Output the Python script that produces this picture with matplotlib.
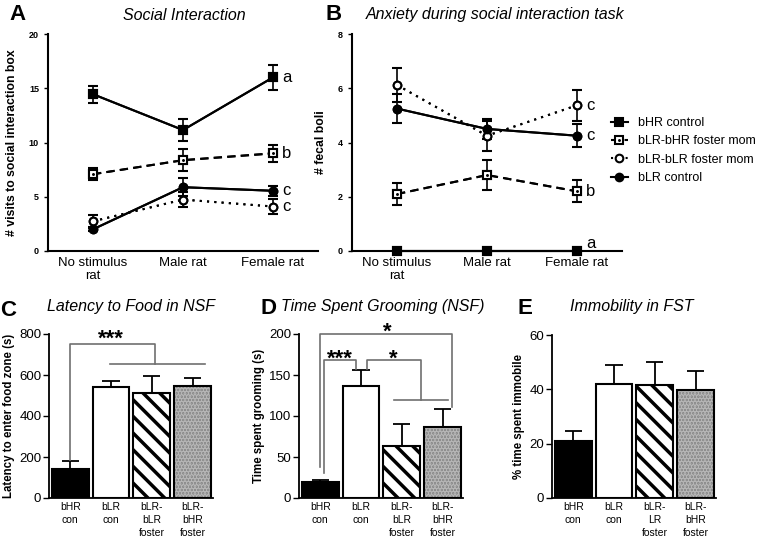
import numpy as np
import matplotlib.pyplot as plt

plt.rcParams['font.family'] = ['Liberation Sans', 'DejaVu Sans']
plt.rcParams['hatch.linewidth'] = 2.5

W, H = 762, 539

# Panel A/B: social interaction
conditions = ['No stimulus\nrat', 'Male rat', 'Female rat']
groups = ['bHR control', 'bLR-bHR foster mom', 'bLR-bLR foster mom', 'bLR control']

visits_bhr = [14.45, 11.15, 16.0]
visits_bhr_err = [0.8, 1.0, 1.15]
visits_hrfoster = [7.08, 8.37, 9.0]
visits_hrfoster_err = [0.55, 1.0, 0.8]
visits_lrfoster = [2.74, 4.74, 4.1]
visits_lrfoster_err = [0.55, 0.7, 0.68]
visits_blr = [2.0, 5.88, 5.55]
visits_blr_err = [0.15, 0.85, 0.45]
visits_letters = ['a', 'b', 'c', 'c']

boli_bhr = [0.0, 0.0, 0.0]
boli_bhr_err = [0.0, 0.0, 0.0]
boli_hrfoster = [2.1, 2.8, 2.2]
boli_hrfoster_err = [0.4, 0.56, 0.4]
boli_lrfoster = [6.12, 4.25, 5.37]
boli_lrfoster_err = [0.62, 0.55, 0.56]
boli_blr = [5.25, 4.5, 4.25]
boli_blr_err = [0.53, 0.38, 0.43]
boli_letters = ['a', 'b', 'c', 'c']

# Panels C/D/E: bars
bar_labels = ['bHR\ncon', 'bLR\ncon', 'bLR-\nbLR\nfoster', 'bLR-\nbHR\nfoster']
fst_labels = ['bHR\ncon', 'bLR\ncon', 'bLR-\nLR\nfoster', 'bLR-\nbHR\nfoster']
latency = [141, 541, 514, 546]
latency_err = [41, 31, 83, 38]
grooming = [19, 136, 64, 86]
grooming_err = [2.5, 19.5, 26, 22]
immobility = [21.1, 42.1, 41.7, 39.9]
immobility_err = [3.7, 6.7, 8.5, 6.7]


def px(x0, y0, w, h):
    return [x0 / W, 1 - (y0 + h) / H, w / W, h / H]


fig = plt.figure(figsize=(W / 100, H / 100), dpi=100)

line_styles = [
    dict(ls='-', marker='s', mfc='black'),
    dict(ls=(0, (4, 2.5)), marker='s', mfc='white'),
    dict(ls=(0, (1, 2.5)), marker='o', mfc='white'),
    dict(ls='-', marker='o', mfc='black'),
]


def line_panel(ax, series, errs, letters, ymax, step):
    x = np.arange(len(conditions))
    handles = []
    for i, (m, e) in enumerate(zip(series, errs)):
        st = line_styles[i]
        ax.errorbar(x, m, yerr=e, color='black', lw=1.5, ls=st['ls'],
                    marker=st['marker'], ms=5.5, mfc=st['mfc'], mec='black',
                    mew=1.5, capsize=3.5, elinewidth=1.2, capthick=1.2,
                    clip_on=False, zorder=3)
        h, = ax.plot(x, m, color='black', lw=1.5, ls=st['ls'], marker=st['marker'],
                     ms=5.5, mfc=st['mfc'], mec='black', mew=1.5, clip_on=False, zorder=4)
        if i == 1:
            d, = ax.plot(x, m, ls='none', marker='.', ms=2.2, color='black',
                         clip_on=False, zorder=5)
            handles.append((h, d))
        else:
            handles.append(h)
        va = 'bottom' if m[-1] == 0 else 'center'
        ax.text(x[-1] + 0.1, m[-1], letters[i], fontsize=12, ha='left', va=va)
    ax.set_xlim(-0.5, 2.5)
    ax.set_ylim(0, ymax)
    ax.set_yticks(np.arange(0, ymax + 0.1, step))
    ax.set_xticks(x)
    ax.set_xticklabels(conditions, fontsize=9.5)
    ax.tick_params(axis='x', length=0, pad=4)
    ax.tick_params(axis='y', length=3, width=1, labelsize=6.5)
    for t in ax.get_yticklabels():
        t.set_fontweight('bold')
    for s in ['top', 'right']:
        ax.spines[s].set_visible(False)
    for s in ['left', 'bottom']:
        ax.spines[s].set_linewidth(1.5)
    return handles


axA = fig.add_axes(px(48, 34, 270, 217))
handles = line_panel(axA, [visits_bhr, visits_hrfoster, visits_lrfoster, visits_blr],
                     [visits_bhr_err, visits_hrfoster_err, visits_lrfoster_err, visits_blr_err],
                     visits_letters, 20, 5)
axA.set_ylabel('# visits to social interaction box', fontsize=8.8, fontweight='bold', labelpad=8)

axB = fig.add_axes(px(352, 34, 270, 217))
line_panel(axB, [boli_bhr, boli_hrfoster, boli_lrfoster, boli_blr],
           [boli_bhr_err, boli_hrfoster_err, boli_lrfoster_err, boli_blr_err],
           boli_letters, 8, 2)
axB.set_ylabel('# fecal boli', fontsize=8.8, fontweight='bold', labelpad=8)

fig.legend(handles, groups, loc='upper left', bbox_to_anchor=(600 / W, 1 - 106 / H),
           frameon=False, fontsize=9, handlelength=1.3, handletextpad=0.8,
           labelspacing=0.5, numpoints=1)


def bar_panel(ax, vals, errs, labels, ymax, step):
    x = np.arange(len(vals))
    ax.bar(x[0], vals[0], 0.9, color='black', edgecolor='black', lw=1.5, zorder=2)
    ax.bar(x[1], vals[1], 0.9, color='white', edgecolor='black', lw=1.5, zorder=2)
    ax.bar(x[2], vals[2], 0.9, color='white', edgecolor='black', hatch='\\\\', lw=0, zorder=2)
    ax.bar(x[3], vals[3], 0.9, color='#8a8a8a', edgecolor='#b5b5b5', hatch='.....', lw=0, zorder=2)
    ax.bar(x[2:], vals[2:], 0.9, color='none', edgecolor='black', lw=1.5, zorder=3)
    v = np.array(vals)
    e = np.array(errs)
    ax.vlines(x, v, v + e, color='black', lw=1.3, zorder=1)
    ax.hlines(v + e, x - 0.21, x + 0.21, color='black', lw=1.3, zorder=1)
    ax.set_xlim(-0.52, 3.5)
    ax.set_ylim(0, ymax)
    ax.set_yticks(np.arange(0, ymax + 0.1, step))
    ax.set_xticks(x)
    ax.set_xticklabels(labels, fontsize=7.5, linespacing=1.35)
    ax.tick_params(axis='x', length=0, pad=3)
    ax.tick_params(axis='y', length=4, width=1, labelsize=9.5, pad=1.5)
    for s in ['top', 'right']:
        ax.spines[s].set_visible(False)
    for s in ['left', 'bottom']:
        ax.spines[s].set_linewidth(1.3)


sig = dict(color='#707070', lw=1.2, clip_on=False, zorder=4)

axC = fig.add_axes(px(49, 334, 164, 164))
bar_panel(axC, latency, latency_err, bar_labels, 800, 200)
axC.set_ylabel('Latency to enter food zone (s)', fontsize=8.3, fontweight='bold', labelpad=3)
axC.plot([0, 0, 2.08, 2.08], [latency[0] + latency_err[0] + 5, 750, 750, 654], **sig)
axC.plot([0.98, 3.3], [654, 654], **sig)
axC.text(1.0, 722, '***', fontsize=16, fontweight='bold', ha='center', va='bottom')

axD = fig.add_axes(px(299, 334, 164, 164))
bar_panel(axD, grooming, grooming_err, bar_labels, 200, 50)
axD.set_ylabel('Time spent grooming (s)', fontsize=8.3, fontweight='bold', labelpad=3)
axD.plot([0, 0, 3.24, 3.24], [38, 200, 200, 111], **sig)
axD.plot([0.1, 0.1, 0.88, 0.88], [30, 168, 168, 157], **sig)
axD.plot([1.14, 1.14, 2.48, 2.48], [157, 168, 168, 119], **sig)
axD.plot([1.8, 3.14], [119, 119], **sig)
axD.text(1.65, 189, '*', fontsize=16, fontweight='bold', ha='center', va='bottom')
axD.text(0.48, 157, '***', fontsize=16, fontweight='bold', ha='center', va='bottom')
axD.text(1.8, 157, '*', fontsize=16, fontweight='bold', ha='center', va='bottom')

axE = fig.add_axes(px(552, 335, 164, 163))
bar_panel(axE, immobility, immobility_err, fst_labels, 60, 20)
axE.set_ylabel('% time spent immobile', fontsize=8.3, fontweight='bold', labelpad=3)

# titles and panel letters
fig.text(184 / W, 1 - 15 / H, 'Social Interaction', fontsize=11.5, style='italic', ha='center', va='center')
fig.text(495 / W, 1 - 15 / H, 'Anxiety during social interaction task', fontsize=11.5, style='italic', ha='center', va='center')
fig.text(131 / W, 1 - 307 / H, 'Latency to Food in NSF', fontsize=11.5, style='italic', ha='center', va='center')
fig.text(383 / W, 1 - 307 / H, 'Time Spent Grooming (NSF)', fontsize=11.5, style='italic', ha='center', va='center')
fig.text(632 / W, 1 - 307 / H, 'Immobility in FST', fontsize=11.5, style='italic', ha='center', va='center')
for lab, xx, yy in [('A', 17, 14), ('B', 334, 14), ('C', 8, 310), ('D', 268, 309), ('E', 525, 309)]:
    fig.text(xx / W, 1 - yy / H, lab, fontsize=16, fontweight='bold', ha='center', va='center')

fig.savefig('out.png', dpi=100)
